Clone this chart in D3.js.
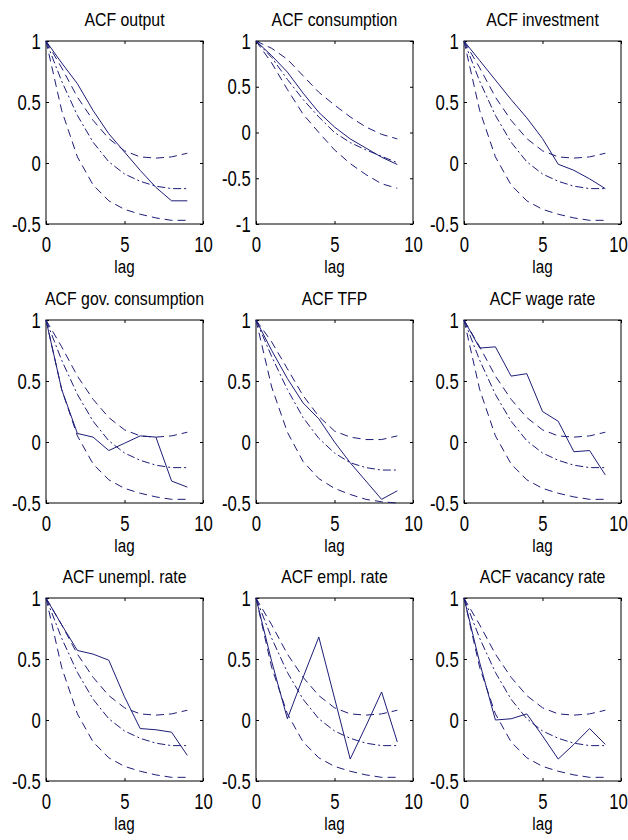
<!DOCTYPE html>
<html>
<head>
<meta charset="utf-8">
<script src="https://cdn.jsdelivr.net/npm/d3@7"></script>
<style>
  body { margin: 0; background: #fff; }
  text { font-family: "Liberation Sans", Arial, sans-serif; fill: #000; }
</style>
</head>
<body>
<div id="chart"></div>
<script>
// ---- data ----
const lags = [0, 1, 2, 3, 4, 5, 6, 7, 8, 9];
const xTicks = [0, 5, 10];
const titles = ["ACF output", "ACF consumption", "ACF investment",
                "ACF gov. consumption", "ACF TFP", "ACF wage rate",
                "ACF unempl. rate", "ACF empl. rate", "ACF vacancy rate"];

// model bands (upper dashed, middle dash-dot, lower dashed)
const bandUpper = [1, 0.78, 0.54, 0.35, 0.2, 0.1, 0.05, 0.04, 0.05, 0.08];
const bandMid   = [1, 0.67, 0.39, 0.17, 0.01, -0.09, -0.15, -0.19, -0.21, -0.21];
const bandLower = [1, 0.43, 0.05, -0.18, -0.31, -0.38, -0.42, -0.45, -0.47, -0.47];
const consUpper = [1, 0.92, 0.8, 0.62, 0.44, 0.3, 0.17, 0.06, -0.02, -0.07];
const consMid   = [1, 0.82, 0.58, 0.36, 0.17, 0.0, -0.11, -0.19, -0.26, -0.33];
const consLower = [1, 0.76, 0.47, 0.2, 0.0, -0.19, -0.34, -0.46, -0.56, -0.61];
const tfpUpper  = [1, 0.82, 0.6, 0.38, 0.21, 0.09, 0.04, 0.02, 0.02, 0.05];
const tfpMid    = [1, 0.7, 0.43, 0.2, 0.03, -0.09, -0.17, -0.21, -0.23, -0.23];
const tfpLower  = [1, 0.45, 0.08, -0.16, -0.3, -0.38, -0.43, -0.47, -0.49, -0.5];

// data ACFs (solid)
const acfOutput  = [1, 0.82, 0.65, 0.43, 0.24, 0.09, -0.06, -0.2, -0.31, -0.31];
const acfCons    = [1, 0.84, 0.66, 0.43, 0.22, 0.06, -0.07, -0.17, -0.27, -0.35];
const acfInv     = [1, 0.84, 0.68, 0.52, 0.37, 0.2, -0.01, -0.06, -0.13, -0.21];
const acfGov     = [1, 0.43, 0.07, 0.04, -0.07, -0.01, 0.05, 0.04, -0.32, -0.37];
const acfTfp     = [1, 0.75, 0.52, 0.32, 0.19, 0.0, -0.17, -0.32, -0.47, -0.4];
const acfWage    = [1, 0.77, 0.78, 0.54, 0.56, 0.25, 0.17, -0.08, -0.07, -0.27];
const acfUnempl  = [1, 0.78, 0.57, 0.54, 0.49, 0.19, -0.07, -0.08, -0.1, -0.29];
const acfEmpl    = [1, 0.48, 0.01, 0.35, 0.68, 0.18, -0.32, -0.05, 0.23, -0.18];
const acfVacancy = [1, 0.47, 0.0, 0.01, 0.05, -0.13, -0.32, -0.2, -0.07, -0.2];

const yTicksStd = [-0.5, 0, 0.5, 1];
const yTicksCons = [-1, -0.5, 0, 0.5, 1];

const panels = [
  { solid: acfOutput,  up: bandUpper, mid: bandMid, lo: bandLower, yDom: [-0.5, 1], yTicks: yTicksStd },
  { solid: acfCons,    up: consUpper, mid: consMid, lo: consLower, yDom: [-1, 1],   yTicks: yTicksCons },
  { solid: acfInv,     up: bandUpper, mid: bandMid, lo: bandLower, yDom: [-0.5, 1], yTicks: yTicksStd },
  { solid: acfGov,     up: bandUpper, mid: bandMid, lo: bandLower, yDom: [-0.5, 1], yTicks: yTicksStd },
  { solid: acfTfp,     up: tfpUpper,  mid: tfpMid,  lo: tfpLower,  yDom: [-0.5, 1], yTicks: yTicksStd },
  { solid: acfWage,    up: bandUpper, mid: bandMid, lo: bandLower, yDom: [-0.5, 1], yTicks: yTicksStd },
  { solid: acfUnempl,  up: bandUpper, mid: bandMid, lo: bandLower, yDom: [-0.5, 1], yTicks: yTicksStd },
  { solid: acfEmpl,    up: bandUpper, mid: bandMid, lo: bandLower, yDom: [-0.5, 1], yTicks: yTicksStd },
  { solid: acfVacancy, up: bandUpper, mid: bandMid, lo: bandLower, yDom: [-0.5, 1], yTicks: yTicksStd }
];

// ---- layout ----
const colX = [46, 256, 464];
const rowY = [41, 320, 598];
const pw = 157, ph = 183;
const lineColor = "#1d1d78";

const svg = d3.select("#chart").append("svg")
    .attr("width", 628)
    .attr("height", 840);

panels.forEach(function (p, i) {
  const g = svg.append("g")
      .attr("transform", "translate(" + colX[i % 3] + "," + rowY[Math.floor(i / 3)] + ")");

  const x = d3.scaleLinear().domain([0, 10]).range([0, pw]);
  const y = d3.scaleLinear().domain(p.yDom).range([ph, 0]);

  // inward ticks on all four sides
  const bottom = g.append("g").attr("transform", "translate(0," + ph + ")")
      .call(d3.axisBottom(x).tickValues(xTicks).tickSize(-3).tickPadding(12)
            .tickFormat(d => String(d)));
  g.append("g")
      .call(d3.axisTop(x).tickValues(xTicks).tickSize(-3).tickFormat(""));
  const left = g.append("g")
      .call(d3.axisLeft(y).tickValues(p.yTicks).tickSize(-3).tickPadding(6)
            .tickFormat(d => String(d)));
  g.append("g").attr("transform", "translate(" + pw + ",0)")
      .call(d3.axisRight(y).tickValues(p.yTicks).tickSize(-3).tickFormat(""));

  g.selectAll(".domain").remove();
  g.selectAll(".tick line").attr("stroke", "#000");
  [bottom, left].forEach(function (ax) {
    ax.selectAll("text")
        .attr("font-size", "22px")
        .attr("font-family", "Liberation Sans, Arial, sans-serif")
        .attr("fill", "#000")
        .attr("transform", "scale(0.76,1)");
  });
  left.selectAll("text").attr("x", -7);
  // keep the last "10" inside the window on the right-hand column
  if (i % 3 === 2) {
    bottom.selectAll("text").filter(d => d === 10).attr("x", -4);
  }

  g.append("rect")
      .attr("x", 0).attr("y", 0)
      .attr("width", pw).attr("height", ph)
      .attr("fill", "none")
      .attr("stroke", "#000")
      .attr("stroke-width", 1);

  const line = d3.line()
      .x((d, j) => x(lags[j]))
      .y(d => y(d));

  const series = [
    { v: p.up,    dash: "8,5" },
    { v: p.mid,   dash: "8,3,2,3" },
    { v: p.lo,    dash: "8,5" },
    { v: p.solid, dash: null }
  ];
  series.forEach(function (s) {
    g.append("path")
        .datum(s.v)
        .attr("d", line)
        .attr("fill", "none")
        .attr("stroke", lineColor)
        .attr("stroke-width", 1)
        .attr("stroke-dasharray", s.dash);
  });

  g.append("text")
      .attr("transform", "translate(" + (pw / 2) + ",-15) scale(0.88,1)")
      .attr("text-anchor", "middle")
      .attr("font-size", "18px")
      .text(titles[i]);

  g.append("text")
      .attr("transform", "translate(" + (pw / 2) + "," + (ph + 49) + ") scale(0.8,1)")
      .attr("text-anchor", "middle")
      .attr("font-size", "19px")
      .text("lag");
});
</script>
</body>
</html>
